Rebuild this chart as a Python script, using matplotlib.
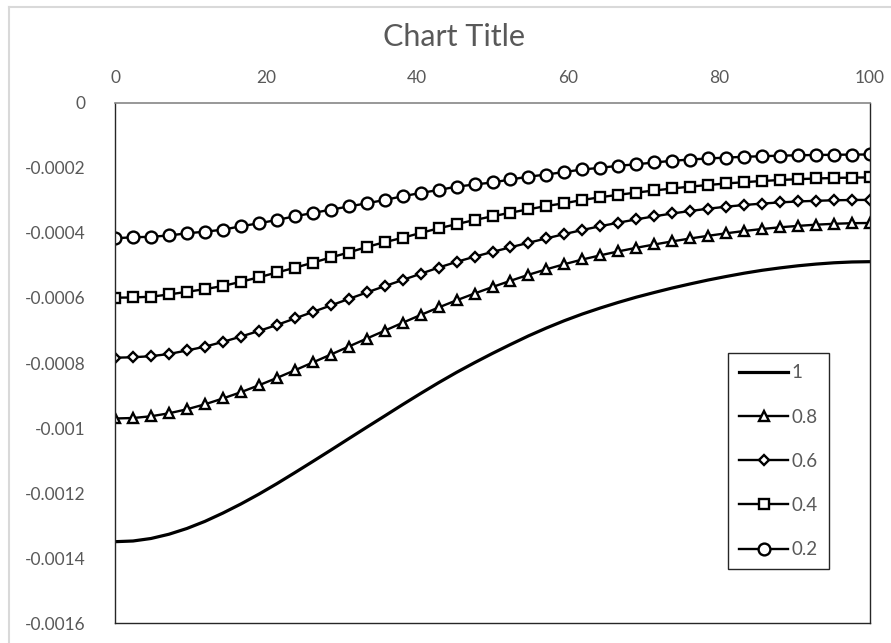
import numpy as np
import matplotlib
matplotlib.use("Agg")
import matplotlib.pyplot as plt
from matplotlib.lines import Line2D

plt.rcParams['font.family'] = ['Lato', 'DejaVu Sans']

# 43 evenly spaced stations from 0 to 100
x = np.linspace(0, 100, 43)

s_10 = [-0.0013491, -0.0013470, -0.0013393, -0.0013262, -0.0013085, -0.0012867, -0.0012612,
        -0.0012333, -0.0012031, -0.0011709, -0.0011371, -0.0011027, -0.0010679, -0.0010326,
        -0.0009975, -0.0009628, -0.0009278, -0.0008937, -0.0008605, -0.0008288, -0.0007990,
        -0.0007704, -0.0007431, -0.0007167, -0.0006924, -0.0006699, -0.0006494, -0.0006309,
        -0.0006137, -0.0005977, -0.0005833, -0.0005695, -0.0005569, -0.0005449, -0.0005341,
        -0.0005240, -0.0005151, -0.0005077, -0.0005012, -0.0004960, -0.0004920, -0.0004895,
        -0.0004886]
s_08 = [-0.0009705, -0.0009690, -0.0009637, -0.0009545, -0.0009422, -0.0009269, -0.0009090,
        -0.0008897, -0.0008685, -0.0008460, -0.0008224, -0.0007984, -0.0007741, -0.0007495,
        -0.0007250, -0.0007007, -0.0006764, -0.0006524, -0.0006294, -0.0006073, -0.0005864,
        -0.0005664, -0.0005473, -0.0005289, -0.0005120, -0.0004963, -0.0004819, -0.0004690,
        -0.0004570, -0.0004459, -0.0004358, -0.0004262, -0.0004173, -0.0004090, -0.0004014,
        -0.0003943, -0.0003881, -0.0003829, -0.0003786, -0.0003749, -0.0003722, -0.0003703,
        -0.0003697]
s_06 = [-0.0007837, -0.0007824, -0.0007790, -0.0007723, -0.0007615, -0.0007498, -0.0007351,
        -0.0007188, -0.0007016, -0.0006832, -0.0006632, -0.0006432, -0.0006232, -0.0006032,
        -0.0005833, -0.0005639, -0.0005449, -0.0005258, -0.0005068, -0.0004892, -0.0004733,
        -0.0004585, -0.0004444, -0.0004305, -0.0004170, -0.0004038, -0.0003912, -0.0003795,
        -0.0003688, -0.0003586, -0.0003491, -0.0003405, -0.0003328, -0.0003258, -0.0003196,
        -0.0003144, -0.0003101, -0.0003064, -0.0003036, -0.0003015, -0.0002999, -0.0002990,
        -0.0002987]
s_04 = [-0.0005993, -0.0005986, -0.0005962, -0.0005894, -0.0005811, -0.0005731, -0.0005633,
        -0.0005504, -0.0005366, -0.0005218, -0.0005074, -0.0004917, -0.0004757, -0.0004604,
        -0.0004435, -0.0004287, -0.0004152, -0.0004004, -0.0003860, -0.0003734, -0.0003605,
        -0.0003491, -0.0003380, -0.0003276, -0.0003175, -0.0003089, -0.0002990, -0.0002904,
        -0.0002830, -0.0002763, -0.0002698, -0.0002637, -0.0002578, -0.0002529, -0.0002483,
        -0.0002443, -0.0002406, -0.0002376, -0.0002351, -0.0002329, -0.0002314, -0.0002302,
        -0.0002296]
s_02 = [-0.0004167, -0.0004136, -0.0004121, -0.0004081, -0.0004014, -0.0003964, -0.0003903,
        -0.0003798, -0.0003706, -0.0003605, -0.0003491, -0.0003390, -0.0003288, -0.0003190,
        -0.0003092, -0.0002990, -0.0002876, -0.0002775, -0.0002683, -0.0002581, -0.0002514,
        -0.0002452, -0.0002360, -0.0002274, -0.0002207, -0.0002130, -0.0002053, -0.0002001,
        -0.0001939, -0.0001893, -0.0001838, -0.0001786, -0.0001746, -0.0001715, -0.0001687,
        -0.0001663, -0.0001644, -0.0001629, -0.0001616, -0.0001607, -0.0001601, -0.0001595,
        -0.0001592]

xticks = [0, 20, 40, 60, 80, 100]
yticks = [0, -0.0002, -0.0004, -0.0006, -0.0008, -0.001, -0.0012, -0.0014, -0.0016]
ytick_labels = ['0', '-0.0002', '-0.0004', '-0.0006', '-0.0008', '-0.001', '-0.0012', '-0.0014', '-0.0016']

grey = '#595959'

fig = plt.figure(figsize=(8.91, 6.43), dpi=100)
ax = fig.add_axes([0.1291, 0.0306, 0.8473, 0.8097])

ax.plot(x, s_10, color='black', lw=2.3, label='1')
ax.plot(x, s_08, color='black', lw=1.7, marker='^', ms=7.5, mfc='white', mec='black', mew=1.7, label='0.8')
ax.plot(x, s_06, color='black', lw=1.7, marker='D', ms=5.5, mfc='white', mec='black', mew=1.7, label='0.6')
ax.plot(x, s_04, color='black', lw=1.7, marker='s', ms=7.5, mfc='white', mec='black', mew=1.7, label='0.4')
ax.plot(x, s_02, color='black', lw=1.7, marker='o', ms=8.5, mfc='white', mec='black', mew=1.7, label='0.2')

ax.set_xlim(0, 100)
ax.set_ylim(-0.0016, 0)
ax.xaxis.tick_top()
ax.set_xticks(xticks)
ax.set_yticks(yticks)
ax.set_yticklabels(ytick_labels)
ax.tick_params(axis='both', length=0, labelsize=12.5, labelcolor=grey)
ax.tick_params(axis='x', pad=12)
ax.tick_params(axis='y', pad=21)

for side in ['left', 'right', 'bottom']:
    ax.spines[side].set_color('#262626')
    ax.spines[side].set_linewidth(1.0)
ax.spines['top'].set_color('#868686')
ax.spines['top'].set_linewidth(1.2)

fig.text(0.5095, 0.943, 'Chart Title', ha='center', va='center', fontsize=22, color=grey)

leg = ax.legend(loc='upper left', bbox_to_anchor=(0.812, 0.519), fontsize=13.5,
                frameon=True, fancybox=False, edgecolor='#262626', framealpha=1,
                handlelength=2.6, handletextpad=0.2, labelspacing=1.45, borderpad=0.6,
                borderaxespad=0)
leg.get_frame().set_linewidth(1.0)
for t in leg.get_texts():
    t.set_color(grey)

# light chart-area border (top and left edge)
fig.add_artist(Line2D([9 / 891, 9 / 891], [0, 1 - 7 / 643], color='#d9d9d9', lw=1.5))
fig.add_artist(Line2D([9 / 891, 1], [1 - 7 / 643, 1 - 7 / 643], color='#d9d9d9', lw=1.5))

fig.savefig('out.png', dpi=100)
